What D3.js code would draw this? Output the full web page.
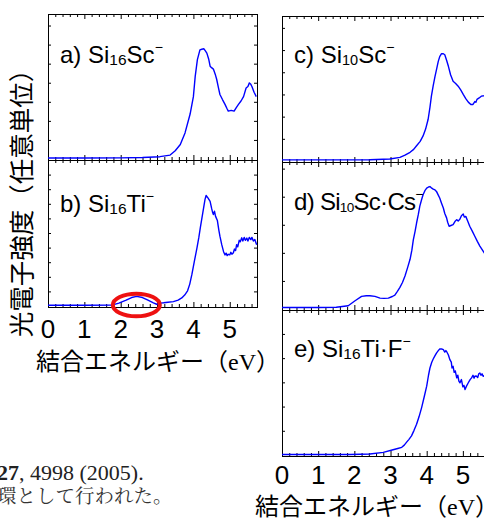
<!DOCTYPE html>
<html>
<head>
<meta charset="utf-8">
<script src="https://cdn.jsdelivr.net/npm/d3@7/dist/d3.min.js"></script>
<style>
  body { margin: 0; background: #fff; }
  svg { display: block; }
</style>
</head>
<body>
<div id="chart"></div>
<script>
// binding energy (eV) / intensity (arb. units, 0..1 of panel height)
var energyA = [0, 1.0, 2.0, 2.6, 3.08, 3.36, 3.50, 3.64, 3.77, 3.91, 4.00, 4.05, 4.11, 4.18, 4.23, 4.29, 4.33, 4.37, 4.42, 4.46, 4.50, 4.55, 4.60, 4.64, 4.69, 4.73, 4.80, 4.87, 4.92, 4.96, 5.04, 5.12, 5.18, 5.24, 5.31, 5.38, 5.45, 5.50, 5.54, 5.58, 5.61, 5.67, 5.73];
var intensityA = [0.007, 0.007, 0.008, 0.01, 0.016, 0.027, 0.057, 0.10, 0.18, 0.31, 0.43, 0.57, 0.685, 0.753, 0.757, 0.76, 0.745, 0.73, 0.69, 0.64, 0.63, 0.62, 0.585, 0.55, 0.49, 0.445, 0.41, 0.377, 0.35, 0.33, 0.335, 0.33, 0.355, 0.377, 0.40, 0.43, 0.49, 0.50, 0.525, 0.515, 0.50, 0.46, 0.43];

var energyB = [0, 1.0, 1.76, 1.95, 2.15, 2.30, 2.44, 2.60, 2.75, 2.90, 2.99, 3.10, 3.18, 3.30, 3.45, 3.58, 3.68, 3.76, 3.84, 3.90, 3.96, 4.03, 4.10, 4.15, 4.19, 4.24, 4.28, 4.32, 4.35, 4.40, 4.46, 4.50, 4.53, 4.55, 4.58, 4.61, 4.66, 4.70, 4.73, 4.78, 4.83, 4.87, 4.90, 4.93, 4.96, 5.00, 5.03, 5.06, 5.10, 5.13, 5.16, 5.19, 5.22, 5.26, 5.29, 5.33, 5.36, 5.40, 5.43, 5.47, 5.50, 5.54, 5.58, 5.61, 5.65, 5.69, 5.74];
var intensityB = [0.005, 0.005, 0.006, 0.02, 0.04, 0.058, 0.066, 0.058, 0.04, 0.022, 0.012, 0.02, 0.022, 0.026, 0.03, 0.04, 0.055, 0.075, 0.104, 0.15, 0.218, 0.31, 0.40, 0.47, 0.535, 0.61, 0.67, 0.73, 0.757, 0.74, 0.716, 0.67, 0.64, 0.626, 0.65, 0.614, 0.585, 0.52, 0.478, 0.42, 0.372, 0.35, 0.362, 0.345, 0.354, 0.35, 0.368, 0.355, 0.365, 0.39, 0.38, 0.42, 0.405, 0.45, 0.44, 0.467, 0.445, 0.47, 0.45, 0.465, 0.445, 0.47, 0.455, 0.47, 0.445, 0.455, 0.42];

var energyC = [0, 1.0, 2.0, 2.43, 2.98, 3.26, 3.40, 3.54, 3.64, 3.72, 3.82, 3.90, 3.97, 4.04, 4.09, 4.13, 4.18, 4.23, 4.28, 4.32, 4.36, 4.41, 4.46, 4.50, 4.55, 4.60, 4.66, 4.73, 4.80, 4.87, 4.94, 5.01, 5.08, 5.15, 5.22, 5.28, 5.33, 5.36, 5.39, 5.45, 5.51, 5.58, 5.66, 5.75];
var intensityC = [0.008, 0.008, 0.008, 0.009, 0.014, 0.025, 0.04, 0.06, 0.08, 0.105, 0.135, 0.173, 0.22, 0.288, 0.37, 0.447, 0.52, 0.584, 0.64, 0.687, 0.72, 0.74, 0.74, 0.733, 0.695, 0.653, 0.595, 0.55, 0.535, 0.516, 0.49, 0.459, 0.43, 0.406, 0.39, 0.39, 0.41, 0.405, 0.425, 0.435, 0.447, 0.45, 0.455, 0.45];

var energyD = [0, 1.0, 1.5, 1.83, 2.02, 2.20, 2.33, 2.43, 2.57, 2.71, 2.82, 2.94, 3.05, 3.12, 3.19, 3.26, 3.33, 3.40, 3.47, 3.54, 3.59, 3.63, 3.68, 3.72, 3.77, 3.81, 3.86, 3.90, 3.95, 4.00, 4.05, 4.09, 4.14, 4.18, 4.23, 4.27, 4.31, 4.36, 4.41, 4.46, 4.50, 4.55, 4.58, 4.62, 4.67, 4.73, 4.78, 4.83, 4.87, 4.92, 4.96, 5.01, 5.04, 5.08, 5.13, 5.19, 5.26, 5.33, 5.40, 5.47, 5.56, 5.65, 5.75];
var intensityD = [0.01, 0.01, 0.012, 0.022, 0.056, 0.086, 0.09, 0.09, 0.086, 0.074, 0.072, 0.074, 0.085, 0.095, 0.12, 0.147, 0.18, 0.225, 0.28, 0.338, 0.40, 0.47, 0.53, 0.585, 0.645, 0.70, 0.745, 0.777, 0.805, 0.822, 0.83, 0.833, 0.822, 0.815, 0.81, 0.80, 0.78, 0.755, 0.72, 0.687, 0.65, 0.62, 0.59, 0.563, 0.568, 0.574, 0.595, 0.608, 0.598, 0.612, 0.635, 0.646, 0.625, 0.63, 0.60, 0.563, 0.53, 0.495, 0.46, 0.428, 0.394, 0.36, 0.34];

var energyE = [0, 1.0, 1.88, 2.43, 2.80, 3.07, 3.20, 3.31, 3.38, 3.44, 3.51, 3.58, 3.65, 3.72, 3.79, 3.86, 3.93, 4.00, 4.05, 4.09, 4.14, 4.18, 4.23, 4.27, 4.32, 4.36, 4.41, 4.46, 4.50, 4.53, 4.55, 4.60, 4.64, 4.68, 4.70, 4.73, 4.76, 4.79, 4.83, 4.86, 4.89, 4.92, 4.96, 5.00, 5.03, 5.06, 5.10, 5.15, 5.20, 5.24, 5.28, 5.31, 5.33, 5.37, 5.41, 5.44, 5.47, 5.50, 5.53, 5.56, 5.62, 5.70, 5.75];
var intensityE = [0.003, 0.003, 0.003, 0.007, 0.018, 0.036, 0.045, 0.053, 0.068, 0.087, 0.108, 0.132, 0.17, 0.212, 0.265, 0.327, 0.40, 0.475, 0.55, 0.60, 0.64, 0.662, 0.685, 0.703, 0.72, 0.731, 0.732, 0.726, 0.71, 0.72, 0.714, 0.69, 0.658, 0.64, 0.60, 0.612, 0.57, 0.58, 0.532, 0.55, 0.51, 0.498, 0.52, 0.47, 0.48, 0.452, 0.475, 0.498, 0.52, 0.532, 0.55, 0.53, 0.543, 0.545, 0.535, 0.56, 0.566, 0.55, 0.56, 0.543, 0.55, 0.545, 0.55];

var xTickLabels = ["0", "1", "2", "3", "4", "5"];
var xLabel = "結合エネルギー";
var yLabel = "光電子強度（任意単位）";

var W = 484, H = 518;
var X_MAX = 5.75;

var svg = d3.select("#chart").append("svg")
    .attr("width", W)
    .attr("height", H);

var xLeft = d3.scaleLinear().domain([0, X_MAX]).range([48, 257]);
var xRight = d3.scaleLinear().domain([0, X_MAX]).range([282, 490]);

var majorTicks = d3.range(0, 6, 1);
var minorTicks = d3.range(0, X_MAX, 0.2).filter(function(t) {
  return Math.abs(t - Math.round(t)) > 0.01;
});

// title = [prefix, subscript, rest]; sub = subscript size, ls = letter spacing
var panels = [
  {x: xLeft, top: 14, bottom: 160, step: 0.1315, e: energyA, v: intensityA, title: ["a) Si", "16", "Sc"], ty: 63, sub: 15.5, ls: 0},
  {x: xLeft, top: 160, bottom: 307, step: 0.1, e: energyB, v: intensityB, title: ["b) Si", "16", "Ti"], ty: 212, sub: 15.5, ls: 0},
  {x: xRight, top: 16, bottom: 162, step: 0.153, e: energyC, v: intensityC, title: ["c) Si", "10", "Sc"], ty: 63, sub: 14.5, ls: 0},
  {x: xRight, top: 162, bottom: 310, step: 0.191, e: energyD, v: intensityD, title: ["d) Si", "10", "Sc\u00b7Cs"], ty: 210, sub: 13.5, ls: -0.7},
  {x: xRight, top: 310, bottom: 456, step: 0.167, e: energyE, v: intensityE, title: ["e) Si", "16", "Ti\u00b7F"], ty: 357, sub: 15.5, ls: 0}
];

function drawTicks(g, axis, transform) {
  var a = g.append("g").attr("transform", transform).call(axis);
  a.select(".domain").remove();
  a.selectAll("line").attr("stroke", "#000").attr("stroke-width", 1);
}

panels.forEach(function(p) {
  var x = p.x;
  var y = d3.scaleLinear().domain([0, 1]).range([p.bottom - 1, p.top]);
  var g = svg.append("g");
  var x0 = x.range()[0], x1 = x.range()[1];

  var yTicks = d3.range(p.step, 0.999, p.step);

  // ticks, pointing inward on all four sides
  drawTicks(g, d3.axisBottom(x).tickValues(majorTicks).tickSize(-5).tickFormat(""), "translate(0," + p.bottom + ")");
  drawTicks(g, d3.axisBottom(x).tickValues(minorTicks).tickSize(-3).tickFormat(""), "translate(0," + p.bottom + ")");
  drawTicks(g, d3.axisTop(x).tickValues(majorTicks).tickSize(-5).tickFormat(""), "translate(0," + p.top + ")");
  drawTicks(g, d3.axisTop(x).tickValues(minorTicks).tickSize(-3).tickFormat(""), "translate(0," + p.top + ")");
  drawTicks(g, d3.axisLeft(y).tickValues(yTicks).tickSize(-3).tickFormat(""), "translate(" + x0 + ",0)");
  drawTicks(g, d3.axisRight(y).tickValues(yTicks).tickSize(-3).tickFormat(""), "translate(" + x1 + ",0)");

  g.append("rect")
      .attr("x", x0 + 0.5)
      .attr("y", p.top + 0.5)
      .attr("width", x1 - x0)
      .attr("height", p.bottom - p.top)
      .attr("fill", "none")
      .attr("stroke", "#000")
      .attr("stroke-width", 1);

  var line = d3.line()
      .x(function(d) { return x(d[0]); })
      .y(function(d) { return y(d[1]); });

  g.append("path")
      .datum(d3.zip(p.e, p.v))
      .attr("d", line)
      .attr("fill", "none")
      .attr("stroke", "#0000ff")
      .attr("stroke-width", 1.4)
      .attr("stroke-linejoin", "round");

  var t = g.append("text")
      .attr("x", x0 + 12)
      .attr("y", p.ty)
      .attr("font-family", "Liberation Sans, Arial, sans-serif")
      .attr("font-size", 24)
      .attr("letter-spacing", p.ls)
      .attr("fill", "#000");
  t.append("tspan").text(p.title[0]);
  t.append("tspan").attr("font-size", p.sub).attr("dy", 2).text(p.title[1]);
  t.append("tspan").attr("dy", -2).text(p.title[2]);
  t.append("tspan").attr("font-size", 14).attr("dy", -11).text("\u2212");
});

// red ellipse marking the weak band in b)
svg.append("ellipse")
    .attr("cx", xLeft(2.43))
    .attr("cy", 305)
    .attr("rx", 23.5)
    .attr("ry", 11.3)
    .attr("fill", "none")
    .attr("stroke", "#ee1111")
    .attr("stroke-width", 4);

// x tick labels + axis titles
function xAxisLabels(x, baseY, labelX, labelY) {
  svg.append("g").selectAll("text")
    .data(xTickLabels)
    .enter().append("text")
      .attr("x", function(d) { return x(+d); })
      .attr("y", baseY)
      .attr("text-anchor", "middle")
      .attr("font-family", "Liberation Sans, Arial, sans-serif")
      .attr("font-size", 26)
      .text(function(d) { return d; });

  var lab = svg.append("text")
      .attr("x", labelX)
      .attr("y", labelY)
      .attr("font-family", "Noto Sans CJK JP, sans-serif")
      .attr("font-size", 24);
  lab.append("tspan").text(xLabel + "（");
  lab.append("tspan").attr("font-family", "Liberation Serif, serif").text("eV");
  lab.append("tspan").text("）");
}
xAxisLabels(xLeft, 338, 36, 370);
xAxisLabels(xRight, 484, 255, 515);

svg.append("text")
    .attr("transform", "translate(31,197) rotate(-90)")
    .attr("text-anchor", "middle")
    .attr("font-family", "Noto Sans CJK JP, sans-serif")
    .attr("font-size", 25.5)
    .text(yLabel);

// cut-off caption fragments at lower left
var capBold = svg.append("text")
    .attr("x", -3)
    .attr("y", 480)
    .attr("font-family", "Liberation Serif, Times New Roman, serif")
    .attr("font-size", 22)
    .attr("font-weight", "bold")
    .attr("fill", "#222")
    .text("27");
var boldW = capBold.node().getComputedTextLength();
svg.append("text")
    .attr("x", -3 + boldW)
    .attr("y", 480)
    .attr("font-family", "Liberation Serif, Times New Roman, serif")
    .attr("font-size", 22)
    .attr("fill", "#222")
    .text(", 4998 (2005).");

svg.append("text")
    .attr("x", -3)
    .attr("y", 503)
    .attr("font-family", "Noto Serif CJK JP, serif, Noto Sans CJK JP")
    .attr("font-size", 19.5)
    .attr("fill", "#333")
    .text("環として行われた。");
</script>
</body>
</html>
